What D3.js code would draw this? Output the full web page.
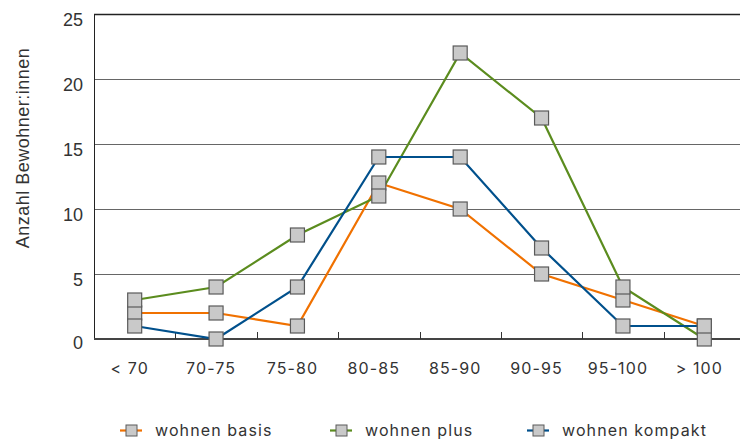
<!DOCTYPE html>
<html>
<head>
<meta charset="utf-8">
<script src="https://cdn.jsdelivr.net/npm/d3@7"></script>
<style>
	body { margin: 0; background: #fff; }
	svg { display: block; }
	.ytick { font-family: "Liberation Sans", Arial, sans-serif; font-size: 18px; fill: #333; }
	.xtick, .legend text { font-family: Inter, "Noto Sans", sans-serif; font-size: 16px; letter-spacing: 1.1px; fill: #333; }
	.ytitle { font-family: "Liberation Sans", Arial, sans-serif; font-size: 18px; letter-spacing: 0.5px; fill: #333; }
</style>
</head>
<body>
<svg id="chart" width="740" height="442"></svg>
<script>
const categories = ['< 70', '70-75', '75-80', '80-85', '85-90', '90-95', '95-100', '> 100']
const basis = [2, 2, 1, 12, 10, 5, 3, 1]
const plus = [3, 4, 8, 11, 22, 17, 4, 0]
const kompakt = [1, 0, 4, 14, 14, 7, 1, 1]
const yTicks = [0, 5, 10, 15, 20, 25]
const seriesNames = ['wohnen basis', 'wohnen plus', 'wohnen kompakt']
const seriesColors = ['#f07100', '#5b8c1e', '#00508c']

const width = 740, height = 442
const padding = { top: 14, bottom: 103, left: 94, right: -5 }

let svg = d3.select('#chart')

let scaleX = d3.scaleBand()
	.domain(categories)
	.range([padding.left, width - padding.right])
let scaleY = d3.scaleLinear()
	.domain([0, 25])
	.range([height - padding.bottom, padding.top])

// horizontal grid
svg.append('g').selectAll('line')
	.data(yTicks.filter(d => d > 0))
	.join('line')
	.attr('x1', padding.left)
	.attr('x2', width)
	.attr('y1', d => Math.round(scaleY(d)) + 0.5)
	.attr('y2', d => Math.round(scaleY(d)) + 0.5)
	.attr('stroke', d => d === 25 ? '#222' : '#666')
	.attr('stroke-width', d => d === 25 ? 1.3 : 1)

// y axis line
svg.append('line')
	.attr('x1', padding.left + 0.5).attr('x2', padding.left + 0.5)
	.attr('y1', scaleY(25)).attr('y2', scaleY(0))
	.attr('stroke', '#222')

// x axis, ticks at band boundaries pointing up
let xAxis = d3.axisBottom(scaleX).tickSize(0).tickPadding(24)
let gx = svg.append('g')
	.attr('transform', `translate(0,${Math.round(scaleY(0))})`)
	.call(xAxis)
gx.select('.domain').attr('stroke', '#444').attr('stroke-width', 2)
	.attr('d', `M${padding.left},0H${width}`)
gx.selectAll('text').attr('class', 'xtick').attr('fill', null)
	.attr('x', -5)
gx.attr('font-size', null).attr('font-family', null)
gx.selectAll('.sep')
	.data(categories.slice(1))
	.join('line')
	.attr('class', 'sep')
	.attr('x1', d => Math.round(scaleX(d)) + 0.5)
	.attr('x2', d => Math.round(scaleX(d)) + 0.5)
	.attr('y1', 0).attr('y2', -7)
	.attr('stroke', '#333')

// y tick labels sit just under their grid line
svg.append('g').selectAll('text')
	.data(yTicks)
	.join('text')
	.attr('class', 'ytick')
	.attr('x', 83)
	.attr('y', d => scaleY(d) + (d === 0 ? 9.5 : 11.5))
	.attr('text-anchor', 'end')
	.text(d => d)

svg.append('text')
	.attr('class', 'ytitle')
	.attr('transform', `translate(29,148) rotate(-90)`)
	.attr('text-anchor', 'middle')
	.text('Anzahl Bewohner:innen')

const series = [basis, plus, kompakt]
let cx = c => scaleX(c) + scaleX.bandwidth() / 2
let line = d3.line()
	.x((d, i) => cx(categories[i]))
	.y(d => scaleY(d))

series.forEach((s, k) => {
	svg.append('path')
		.attr('d', line(s))
		.attr('fill', 'none')
		.attr('stroke', seriesColors[k])
		.attr('stroke-width', 2.2)
})

const m = 14
series.forEach(s => {
	svg.append('g').selectAll('rect')
		.data(s)
		.join('rect')
		.attr('x', (d, i) => cx(categories[i]) - m / 2)
		.attr('y', d => scaleY(d) - m / 2)
		.attr('width', m)
		.attr('height', m)
		.attr('fill', '#c9c9c9')
		.attr('stroke', '#5a5a5a')
		.attr('stroke-width', 1.2)
})

// legend
const legendX = [120, 330, 527]
let legend = svg.append('g').attr('class', 'legend')
	.selectAll('g')
	.data(seriesNames)
	.join('g')
	.attr('transform', (d, i) => `translate(${legendX[i]},430.5)`)
legend.append('line')
	.attr('x1', 0).attr('x2', 22)
	.attr('y1', 0).attr('y2', 0)
	.attr('stroke', (d, i) => seriesColors[i])
	.attr('stroke-width', 2.2)
legend.append('rect')
	.attr('x', 6).attr('y', -5.5)
	.attr('width', 11).attr('height', 11)
	.attr('fill', '#c9c9c9')
	.attr('stroke', '#5a5a5a')
legend.append('text')
	.attr('x', 35)
	.attr('y', 5.5)
	.text(d => d)
</script>
</body>
</html>
